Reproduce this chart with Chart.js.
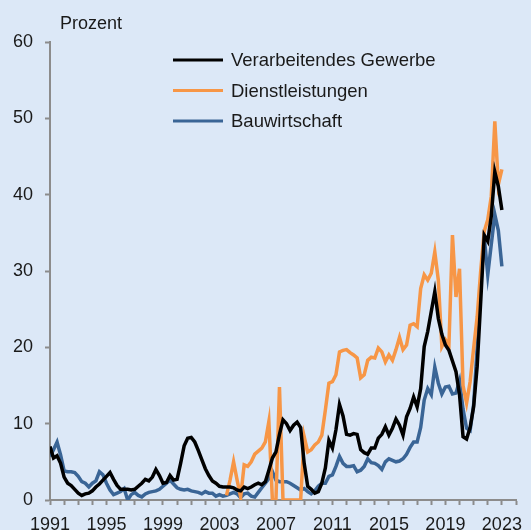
<!DOCTYPE html>
<html>
<head>
<meta charset="utf-8">
<script src="https://cdn.jsdelivr.net/npm/chart.js@4.4.0/dist/chart.umd.min.js"></script>
<style>
    html, body { margin: 0; padding: 0; background: #dce8f7; overflow: hidden; }
    #chart { display: block; background: #dce8f7; }
</style>
</head>
<body>
<canvas id="chart" width="531" height="530"></canvas>
<script>
// quarterly values, 1991 Q1 ... 2023 Q1 (one row per year)
const startYear = 1991;
const endYear = 2024;
const labelEvery = 4;

const manufacturing = [
    7.0, 5.5, 5.8, 4.8,
    3.0, 2.2, 1.9, 1.4,
    0.9, 0.6, 0.8, 0.9,
    1.2, 1.7, 2.1, 2.6,
    3.1, 3.6, 2.7, 1.9,
    1.4, 1.4, 1.4, 1.3,
    1.4, 1.8, 2.2, 2.7,
    2.5, 3.0, 4.0, 3.2,
    2.2, 2.3, 3.2, 2.6,
    2.7, 4.8, 7.1, 8.1,
    8.2, 7.6, 6.5, 5.3,
    4.1, 3.2, 2.5, 2.2,
    1.8, 1.7, 1.7, 1.7,
    1.6, 1.3, 1.2, 1.7,
    1.5, 1.7, 2.0, 2.2,
    2.0, 2.4, 3.9, 5.5,
    6.3, 8.6, 10.5, 10.0,
    9.1, 9.8, 10.2, 9.5,
    4.8, 1.8, 1.4, 0.9,
    1.1, 2.2, 4.2, 7.8,
    6.8, 9.2, 12.5, 11.0,
    8.6, 8.5, 8.7, 8.6,
    6.6, 6.2, 6.0, 6.8,
    6.8, 8.1, 8.6, 9.6,
    8.5, 9.4, 10.6, 9.8,
    8.5, 10.9, 12.0, 13.5,
    12.2, 14.6, 20.1, 22.1,
    24.7, 27.3, 23.8, 21.7,
    20.3, 19.6, 18.2, 16.8,
    13.8, 8.3, 8.0, 9.5,
    12.2, 17.5, 26.0, 34.7,
    33.9, 37.2, 43.0, 41.1,
    38.0
];

const services = [
    null, null, null, null,
    null, null, null, null,
    null, null, null, null,
    null, null, null, null,
    null, null, null, null,
    null, null, null, null,
    null, null, null, null,
    null, null, null, null,
    null, null, null, null,
    null, null, null, null,
    null, null, null, null,
    null, null, null, null,
    null, null, 0.6, 2.6,
    5.0, 2.6, 0.4, 4.6,
    4.4, 5.0, 6.0, 6.4,
    6.8, 7.6, 10.3, 0,
    0, 14.8, 0, 0,
    0, 0, 0, 0,
    8.3, 6.3, 6.6, 7.2,
    7.6, 8.5, 11.8, 15.3,
    15.5, 16.4, 19.4, 19.6,
    19.7, 19.3, 19.0, 18.6,
    16.0, 16.4, 18.3, 18.7,
    18.6, 19.9, 19.4, 18.1,
    19.0, 18.3, 19.7, 21.3,
    19.7, 20.3, 22.9, 23.1,
    22.7, 27.7, 29.5, 28.8,
    29.7, 32.5, 28.8, 20.1,
    21.0, 20.3, 34.7, 26.6,
    30.3, 15.0, 12.7, 15.5,
    19.9, 24.0, 30.0, 35.2,
    36.7, 39.8, 49.6, 41.3,
    43.3
];

const construction = [
    5.7, 6.6, 7.6, 5.9,
    3.8, 3.7, 3.7, 3.6,
    3.1, 2.4, 2.2, 1.7,
    2.2, 2.5, 3.7, 3.3,
    2.2, 1.3, 0.7, 0.9,
    1.1, 1.5, 0.0, 0.7,
    1.0, 0.6, 0.4, 0.8,
    1.0, 1.1, 1.2, 1.4,
    1.8, 2.2, 2.6, 2.1,
    1.6, 1.4, 1.3, 1.4,
    1.2, 1.1, 1.0, 0.8,
    1.1, 0.9, 0.9, 0.5,
    0.7, 0.5, 0.6, 0.8,
    1.0, 0.8, 0.3, 0.8,
    0.9, 0.5, 0.4, 1.0,
    1.6, 2.2, 2.8, 3.7,
    2.6, 2.4, 2.4, 2.4,
    2.2, 1.9, 1.6, 1.3,
    1.5, 1.1, 0.8, 1.2,
    1.8, 2.2, 2.2, 3.1,
    3.3, 4.4, 5.7, 4.8,
    4.4, 4.4, 4.5, 3.7,
    3.9, 4.4, 5.4, 4.9,
    4.8, 4.5, 4.0, 5.0,
    5.4, 5.2, 5.0, 5.1,
    5.4, 6.0, 6.9, 7.6,
    7.6, 9.5, 13.1, 14.6,
    13.8, 17.4, 15.3, 13.9,
    14.8, 14.9, 13.9, 14.0,
    15.6, 11.9, 9.4, 9.1,
    12.5, 19.9, 28.0, 34.5,
    29.5, 33.5, 37.4, 35.3,
    30.6
];

const seriesNames = ["Verarbeitendes Gewerbe", "Dienstleistungen", "Bauwirtschaft"];
const seriesColors = ["#000000", "#f79646", "#3a6596"];
const unitLabel = "Prozent";

const fontFamily = "'Liberation Sans', Arial, sans-serif";
const axisColor = "#8c8c8c";
const textColor = "#1a1a1a";

const toPoints = (arr) => arr.map((v, i) => ({ x: startYear + i / 4, y: v }));

// "Prozent" above the axis and the legend block inside the plot
const annotations = {
    id: "annotations",
    afterDraw(chart) {
        const c = chart.ctx;
        c.save();
        c.font = "18px " + fontFamily;
        c.fillStyle = textColor;
        c.textAlign = "left";
        c.textBaseline = "alphabetic";
        c.fillText(unitLabel, 60, 29);
        c.font = "18.5px " + fontFamily;
        chart.data.datasets.forEach((ds, i) => {
            const y = 60 + i * 30.5;
            c.strokeStyle = ds.borderColor;
            c.lineWidth = 3;
            c.beginPath();
            c.moveTo(173, y);
            c.lineTo(223, y);
            c.stroke();
            c.textBaseline = "middle";
            c.fillText(ds.label, 231, y + 1);
        });
        c.restore();
    },
};

const ctx = document.getElementById("chart").getContext("2d");
const chart = new Chart(ctx, {
    type: "line",
    data: {
        datasets: [
            { label: seriesNames[0], data: toPoints(manufacturing), borderColor: seriesColors[0] },
            { label: seriesNames[1], data: toPoints(services), borderColor: seriesColors[1] },
            { label: seriesNames[2], data: toPoints(construction), borderColor: seriesColors[2] },
        ],
    },
    options: {
        responsive: false,
        animation: false,
        layout: { padding: { top: 42, right: 15, left: 0, bottom: 0 } },
        elements: {
            point: { radius: 0 },
            line: { borderWidth: 3.5, tension: 0, fill: false },
        },
        scales: {
            x: {
                type: "linear",
                min: startYear,
                max: endYear,
                afterFit: (s) => { s.height = 30; },
                ticks: {
                    stepSize: 1,
                    autoSkip: false,
                    maxRotation: 0,
                    padding: 9,
                    color: textColor,
                    font: { family: fontFamily, size: 18 },
                    callback: (v) => ((v - startYear) % labelEvery === 0 ? String(v) : ""),
                },
                grid: { drawOnChartArea: false, drawTicks: true, tickLength: 5, tickColor: axisColor, tickWidth: 2 },
                border: { color: axisColor, width: 2 },
            },
            y: {
                min: 0,
                max: 60,
                afterFit: (s) => { s.width = 50; },
                ticks: {
                    stepSize: 10,
                    padding: 12,
                    color: textColor,
                    font: { family: fontFamily, size: 18 },
                },
                grid: { drawOnChartArea: false, drawTicks: true, tickLength: 5, tickColor: axisColor, tickWidth: 2 },
                border: { color: axisColor, width: 2 },
            },
        },
        plugins: {
            legend: { display: false },
            tooltip: { enabled: false },
        },
    },
    plugins: [annotations],
});
</script>
</body>
</html>
